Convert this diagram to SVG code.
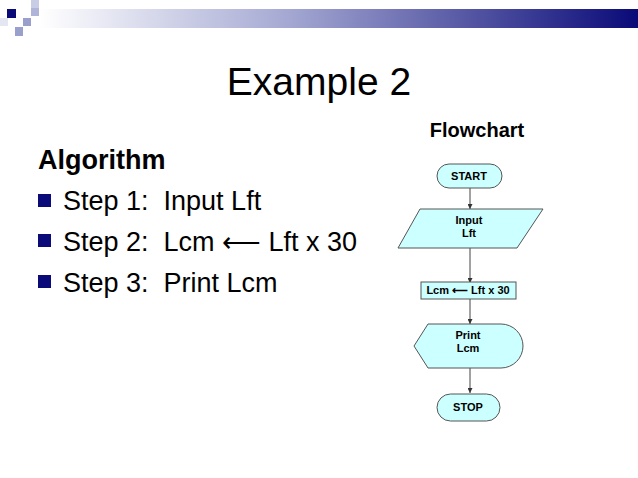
<svg xmlns="http://www.w3.org/2000/svg" width="638" height="478" viewBox="0 0 638 478">
<defs>
<linearGradient id="bar" x1="0" x2="1" y1="0" y2="0">
<stop offset="0" stop-color="#ffffff"/><stop offset="0.4" stop-color="#a8acd4"/><stop offset="1" stop-color="#0a0a78"/>
</linearGradient>
<marker id="ah" viewBox="0 0 10 10" refX="10" refY="5" markerWidth="5" markerHeight="5" orient="auto"><path d="M0,0 L10,5 L0,10 z" fill="#333"/></marker>
<style>
.t{font-family:"Liberation Sans",Arial,sans-serif;fill:#000}
.n{fill:#ccffff;stroke:#555;stroke-width:1}
.nl{font-family:"Liberation Sans",Arial,sans-serif;font-weight:bold;font-size:11px;text-anchor:middle;fill:#000}
.c{stroke:#444;stroke-width:1;fill:none;marker-end:url(#ah)}
</style>
</defs>
<rect width="638" height="478" fill="#fff"/>
<g id="header">
<rect x="40" y="9" width="598" height="19" fill="url(#bar)"/>
<rect x="31" y="0" width="8" height="8" fill="#c8cce4"/>
<rect x="31" y="8" width="8" height="8" fill="#b0b4d8"/>
<rect x="7" y="9" width="9" height="9" fill="#0a0a78"/>
<rect x="23" y="18" width="8" height="8" fill="#9aa0cc"/>
<rect x="15" y="27" width="8" height="9" fill="#9aa0cc"/>
<rect x="0" y="18" width="8" height="8" fill="#e4e6f2"/>
</g>
<text class="t" x="319" y="95" font-size="39" text-anchor="middle">Example 2</text>
<text class="t" x="38" y="169" font-size="27" font-weight="bold">Algorithm</text>
<g fill="#0a0a78"><rect x="38" y="194" width="13" height="13"/><rect x="38" y="234" width="13" height="13"/><rect x="38" y="275" width="13" height="13"/></g>
<text class="t" x="63" y="210" font-size="27" xml:space="preserve">Step 1:  Input Lft</text>
<text class="t" x="63" y="251" font-size="27" xml:space="preserve">Step 2:  Lcm ⟵ Lft x 30</text>
<text class="t" x="63" y="292" font-size="27" xml:space="preserve">Step 3:  Print Lcm</text>
<text class="t" x="477" y="137" font-size="20" font-weight="bold" text-anchor="middle">Flowchart</text>
<g id="connectors">
<line class="c" x1="470" y1="188" x2="470" y2="209"/>
<line class="c" x1="470" y1="248" x2="470" y2="283"/>
<line class="c" x1="470" y1="299" x2="470" y2="324"/>
<line class="c" x1="470" y1="368" x2="470" y2="393"/>
</g>
<g id="start"><rect class="n" x="437" y="164" width="65" height="24" rx="12"/><text class="nl" x="469" y="180">START</text></g>
<g id="input"><polygon class="n" points="420,209 543,209 517,248 398,248"/><text class="nl" x="469" y="224">Input</text><text class="nl" x="469" y="237">Lft</text></g>
<g id="process"><rect class="n" x="421" y="282" width="95" height="17"/><text class="nl" x="468" y="294">Lcm ⟵ Lft x 30</text></g>
<g id="print"><path class="n" d="M414,346 L428,324 L501,324 A22,22 0 0 1 501,368 L428,368 Z"/><text class="nl" x="468" y="339">Print</text><text class="nl" x="468" y="352">Lcm</text></g>
<g id="stop"><rect class="n" x="437" y="394" width="63" height="27" rx="13.5"/><text class="nl" x="468" y="411">STOP</text></g>
</svg>
